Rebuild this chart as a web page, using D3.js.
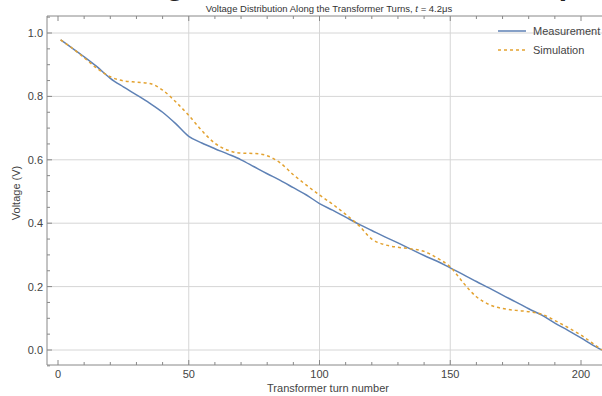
<!DOCTYPE html>
<html><head><meta charset="utf-8">
<script src="https://cdn.jsdelivr.net/npm/d3@7"></script>
<style>body{margin:0;background:#fff}svg{display:block;font-family:"Liberation Sans",Arial,sans-serif}</style>
</head><body><svg id="c" width="602" height="396"></svg>
<script>
const turns = [1,5,10,15,20,25,30,35,40,45,50,55,60,65,70,75,80,85,90,95,100,105,110,115,120,125,130,135,140,145,150,155,160,165,170,175,180,185,190,195,200,205,208];
const measurement = [0.978,0.955,0.925,0.893,0.857,0.830,0.805,0.779,0.750,0.714,0.674,0.653,0.635,0.618,0.600,0.578,0.556,0.535,0.512,0.489,0.462,0.441,0.419,0.397,0.377,0.357,0.338,0.318,0.298,0.280,0.259,0.238,0.216,0.195,0.173,0.152,0.130,0.110,0.085,0.062,0.038,0.013,0.0];
const simulation = [0.978,0.955,0.922,0.888,0.862,0.849,0.845,0.841,0.820,0.783,0.740,0.692,0.652,0.630,0.621,0.620,0.613,0.590,0.553,0.520,0.489,0.460,0.428,0.393,0.350,0.332,0.324,0.319,0.311,0.290,0.262,0.212,0.168,0.143,0.131,0.125,0.121,0.113,0.093,0.071,0.047,0.018,0.0];
const xTicks = [0,50,100,150,200];
const yTicks = [0,0.2,0.4,0.6,0.8,1.0];
const seriesNames = ["Measurement","Simulation"];
const colors = ["#5e81b5","#e3a230"];

const svg = d3.select("#c");
const x = d3.scaleLinear().domain([0,200]).range([58,581]);
const y = d3.scaleLinear().domain([0,1]).range([350,33]);
const fL = 47, fT = 16, fB = 365, fR = 606;

// big title, partly above the top edge (as in the reference)
const big = svg.append("text").attr("y",-5).attr("font-size",30).attr("font-weight","bold").attr("fill","#222");
big.append("tspan").attr("x",201).attr("text-anchor","end").text("Voltage");
big.append("tspan").attr("x",492).text("Comparison");

// grid
const g = svg.append("g");
g.selectAll(".gy").data(yTicks).join("line")
  .attr("x1",fL).attr("x2",fR).attr("y1",d=>y(d)).attr("y2",d=>y(d))
  .attr("stroke","#d6d6d6").attr("stroke-width",1);
g.selectAll(".gx").data([50,100,150]).join("line")
  .attr("y1",fT).attr("y2",fB).attr("x1",d=>x(d)).attr("x2",d=>x(d))
  .attr("stroke","#d6d6d6").attr("stroke-width",1);

// lines
const line = d3.line().x((d,i)=>x(turns[i])).y(d=>y(d)).curve(d3.curveMonotoneX);
svg.append("path").datum(measurement).attr("d",line).attr("fill","none")
  .attr("stroke",colors[0]).attr("stroke-width",1.5);
svg.append("path").datum(simulation).attr("d",line).attr("fill","none")
  .attr("stroke",colors[1]).attr("stroke-width",1.5).attr("stroke-dasharray","3,3");

// frame
svg.append("line").attr("x1",fL).attr("x2",fL).attr("y1",fT).attr("y2",fB).attr("stroke","#888");
svg.append("line").attr("x1",fL).attr("x2",fR).attr("y1",fB).attr("y2",fB).attr("stroke","#888");
svg.append("line").attr("x1",fL).attr("x2",fR).attr("y1",fT).attr("y2",fT).attr("stroke","#888");

// x ticks
const xMinor = d3.range(0,211,10);
svg.selectAll(".xt").data(xMinor).join("line")
  .attr("x1",d=>x(d)).attr("x2",d=>x(d))
  .attr("y1",fB).attr("y2",d=>fB-(d%50===0?5:3)).attr("stroke","#888");
svg.selectAll(".xtt").data(xMinor).join("line")
  .attr("x1",d=>x(d)).attr("x2",d=>x(d))
  .attr("y1",fT).attr("y2",d=>fT+(d%50===0?5:3)).attr("stroke","#888");
svg.selectAll(".xl").data(xTicks).join("text")
  .attr("x",d=>x(d)).attr("y",378).attr("text-anchor","middle")
  .attr("font-size",11).attr("fill","#444").text(d=>d);

// y ticks
const yMinor = d3.range(-0.05,1.06,0.05).map(v=>+v.toFixed(2));
svg.selectAll(".yt").data(yMinor).join("line")
  .attr("y1",d=>y(d)).attr("y2",d=>y(d))
  .attr("x1",fL).attr("x2",d=>fL+(Math.abs(d*5-Math.round(d*5))<1e-6?5:3)).attr("stroke","#888");
svg.selectAll(".yl").data(yTicks).join("text")
  .attr("x",43).attr("y",d=>y(d)+4).attr("text-anchor","end")
  .attr("font-size",11).attr("fill","#444").text(d=>d.toFixed(1));

// axis labels
svg.append("text").attr("x",328).attr("y",392).attr("text-anchor","middle")
  .attr("font-size",11).attr("fill","#444").text("Transformer turn number");
svg.append("text").attr("transform","translate(20,193) rotate(-90)").attr("text-anchor","middle")
  .attr("font-size",11).attr("fill","#444").text("Voltage (V)");

// title
const t = svg.append("text").attr("x",329).attr("y",12).attr("text-anchor","middle")
  .attr("font-size",9.5).attr("fill","#333");
t.append("tspan").text("Voltage Distribution Along the Transformer Turns, ");
t.append("tspan").attr("font-style","italic").text("t");
t.append("tspan").text(" = 4.2μs");

// legend
const lg = svg.append("g");
seriesNames.forEach((n,i)=>{
  const yy = 31 + i*19;
  lg.append("line").attr("x1",498).attr("x2",526).attr("y1",yy).attr("y2",yy)
    .attr("stroke",colors[i]).attr("stroke-width",1.5)
    .attr("stroke-dasharray",i===1?"3,3":null);
  lg.append("text").attr("x",533).attr("y",yy+4).attr("font-size",11).attr("fill","#444").text(n);
});
</script></body></html>
